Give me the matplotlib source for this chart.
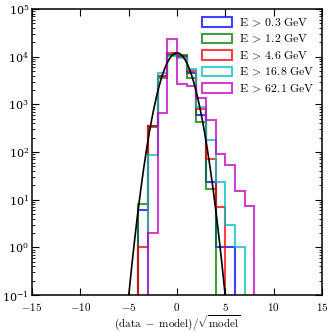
import numpy as np
import matplotlib
matplotlib.use("Agg")
import matplotlib.pyplot as plt
from matplotlib.patches import Patch
from matplotlib.ticker import FuncFormatter, LogLocator, LogFormatterMathtext

plt.rcParams["mathtext.fontset"] = "cm"
plt.rcParams["font.family"] = "serif"
plt.rcParams["font.size"] = 8

# ---------------------------------------------------------------------------
# Data
# ---------------------------------------------------------------------------
bin_edges = [-4, -3, -2, -1, 0, 1, 2, 3, 4, 5, 6, 7, 8]
labels = ["0.3", "1.2", "4.6", "16.8", "62.1"]
counts_03 = [6, 360, 3900, 11000, 10500, 4500, 600, 23, 1, 1, 0, 0]
counts_12 = [8, 330, 3600, 11000, 11000, 3500, 430, 17, 0, 0, 0, 0]
counts_46 = [1, 350, 3900, 12000, 10000, 5000, 790, 71, 7.2, 0, 0, 0]
counts_168 = [0, 87, 4500, 10500, 9500, 5500, 890, 178, 23, 3, 1, 0]
counts_621 = [0, 2, 660, 23000, 2700, 2450, 1360, 471, 91, 53, 15, 7.4]
colors = ["b", "g", "r", "c", "m"]
y_ticks = [1e-1, 1e0, 1e1, 1e2, 1e3, 1e4, 1e5]

# gaussian model curve
gauss_amp = 1.2e4
gauss_sigma = 1.03

fig = plt.figure(figsize=(3.32, 3.32), dpi=100)
ax = fig.add_axes([0.096, 0.111, 0.874, 0.862])

all_counts = [counts_03, counts_12, counts_46, counts_168, counts_621]
handles = []
for vals, lab, col in zip(all_counts, labels, colors):
    ax.stairs(vals, bin_edges, color=col, alpha=0.75, lw=1.5)
    handles.append(Patch(facecolor="none", edgecolor=col, alpha=0.75, lw=1.5,
                         label=r"$\mathrm{E}\:>\:\mathrm{%s\ GeV}$" % lab))

xs = np.linspace(-6, 6, 600)
ax.plot(xs, gauss_amp * np.exp(-xs ** 2 / (2 * gauss_sigma ** 2)), color="k", lw=1.2)

ax.set_yscale("log")
ax.set_xlim(-15, 15)
ax.set_ylim(1e-1, 1e5)
ax.set_xticks([-15, -10, -5, 0, 5, 10, 15])
ax.xaxis.set_major_formatter(FuncFormatter(lambda v, p: r"$%d$" % v))
ax.set_yticks(y_ticks)
ax.yaxis.set_major_formatter(LogFormatterMathtext())
ax.yaxis.set_minor_locator(LogLocator(base=10, subs=np.arange(2, 10), numticks=20))

ax.tick_params(which="both", direction="in", top=True, right=True, labelsize=8)
ax.tick_params(which="major", length=5, width=0.8)
ax.tick_params(which="minor", length=2.5, width=0.6)
ax.tick_params(axis="x", which="major", pad=4)
ax.tick_params(axis="y", which="major", pad=2)
for s in ax.spines.values():
    s.set_linewidth(1.1)

ax.set_xlabel(r"$\mathrm{(data\ -\ model)/\sqrt{model}}$", fontsize=8, labelpad=0)

leg = ax.legend(handles=handles, loc="upper right", frameon=False, fontsize=8.5,
                handlelength=2.6, handleheight=0.9, handletextpad=0.6,
                labelspacing=0.3, borderaxespad=0.2)

fig.savefig("out.png", dpi=100)
